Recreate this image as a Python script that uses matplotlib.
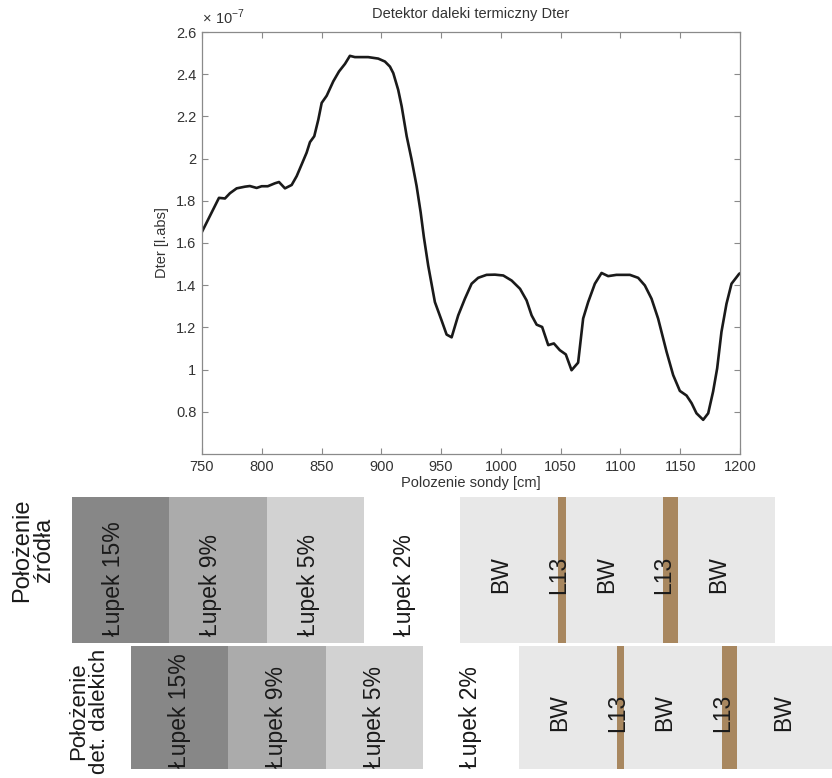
"""
Detektor daleki termiczny Dter — profil sondy z paskiem położenia warstw.
"""

import matplotlib
matplotlib.use("Agg")
import matplotlib.pyplot as plt
import numpy as np

plt.rcParams["font.family"] = ["Liberation Sans", "DejaVu Sans"]
plt.rcParams["mathtext.fontset"] = "custom"
plt.rcParams["mathtext.rm"] = "Liberation Sans"

# probe position [cm] and detector signal [x 1e-7 l.abs]
pos = [750.0, 756.7, 764.2, 769.2, 773.4, 779.0, 786.0, 790.0, 795.7, 799.9,
       805.0, 811.0, 814.4, 819.4, 825.0, 829.2, 833.4, 837.5, 840.3, 843.9,
       847.3, 850.1, 854.3, 859.8, 864.6, 869.6, 873.7, 877.9, 883.5, 889.0,
       897.4, 903.0, 907.2, 910.0, 914.1, 917.0, 921.2, 925.3, 929.5, 932.9,
       935.6, 939.2, 944.8, 950.4, 954.6, 958.8, 964.3, 969.9, 975.5, 981.0,
       988.0, 995.0, 1002.0, 1009.0, 1016.0, 1021.5, 1025.7, 1029.9, 1034.5, 1039.6,
       1044.3, 1049.3, 1054.3, 1059.1, 1064.6, 1068.8, 1073.0, 1078.6, 1084.2, 1089.7,
       1096.7, 1107.9, 1114.8, 1120.4, 1126.0, 1131.5, 1138.6, 1144.1, 1149.7, 1155.3,
       1159.5, 1163.6, 1169.2, 1173.4, 1177.5, 1180.9, 1184.5, 1188.7, 1192.9, 1199.3,
       1200.0]
dter = [1.653, 1.729, 1.814, 1.811, 1.836, 1.859, 1.867, 1.870, 1.861, 1.869,
        1.869, 1.883, 1.889, 1.859, 1.875, 1.917, 1.973, 2.028, 2.078, 2.106,
        2.185, 2.264, 2.298, 2.366, 2.413, 2.449, 2.487, 2.481, 2.481, 2.481,
        2.474, 2.460, 2.436, 2.405, 2.326, 2.248, 2.106, 1.996, 1.870, 1.745,
        1.627, 1.493, 1.320, 1.233, 1.166, 1.153, 1.257, 1.336, 1.407, 1.435,
        1.449, 1.450, 1.446, 1.422, 1.383, 1.328, 1.257, 1.213, 1.202, 1.116,
        1.124, 1.092, 1.072, 0.997, 1.033, 1.242, 1.320, 1.407, 1.458, 1.443,
        1.449, 1.449, 1.435, 1.399, 1.336, 1.242, 1.084, 0.974, 0.899, 0.877,
        0.841, 0.793, 0.762, 0.793, 0.896, 1.006, 1.179, 1.312, 1.407, 1.454,
        1.456]

x_ticks = [750, 800, 850, 900, 950, 1000, 1050, 1100, 1150, 1200]
y_ticks = [0.8, 1.0, 1.2, 1.4, 1.6, 1.8, 2.0, 2.2, 2.4, 2.6]

# layer strips (widths in pixels of the original figure)
layers = ["Łupek 15%", "Łupek 9%", "Łupek 5%", "Łupek 2%", "BW", "L13", "BW", "L13", "BW"]
src_widths = [97, 98, 97, 96, 98, 8, 97, 15, 97]
det_widths = [97, 98, 97, 96, 98, 7, 98, 15, 110]
layer_colors = {"Łupek 15%": "#878787", "Łupek 9%": "#ababab", "Łupek 5%": "#d2d2d2",
                "Łupek 2%": "#ffffff", "BW": "#e8e8e8", "L13": "#a8875f"}
row_titles = ["Położenie\nźródła", "Położenie\ndet. dalekich"]

W, H = 832, 778
fig = plt.figure(figsize=(W / 100, H / 100), dpi=100)

# ---- signal plot
ax = fig.add_axes([202 / W, 1 - 454 / H, 538 / W, 422 / H])
ax.plot(pos, dter, color="#1a1a1a", lw=1.9)
ax.set_xlim(750, 1200)
ax.set_ylim(0.6, 2.6)
ax.set_xticks(x_ticks)
ax.set_yticks(y_ticks)
ax.set_yticklabels([f"{v:g}" for v in y_ticks])
ax.tick_params(direction="in", top=True, right=True, length=4, width=0.8,
               color="#8a8a8a", labelcolor="#333333", labelsize=10.5, pad=4)
for s in ax.spines.values():
    s.set_color("#8a8a8a")
    s.set_linewidth(0.9)
ax.set_title("Detektor daleki termiczny Dter", fontsize=10.5, color="#333333", pad=10)
ax.set_xlabel("Polozenie sondy [cm]", fontsize=10.5, color="#333333", labelpad=2)
ax.set_ylabel("Dter [l.abs]", fontsize=10.5, color="#333333", labelpad=5)
ax.text(0.0, 1.012, r"$\times\ 10^{-7}$", transform=ax.transAxes, fontsize=10.5,
        color="#333333", ha="left", va="bottom")

# ---- layer strips, drawn in figure pixel units
sx = fig.add_axes([0, 0, 1, 1], zorder=-1)
sx.set_xlim(0, W)
sx.set_ylim(H, 0)
sx.axis("off")

rows = [
    # widths, start x, center y, height, Łupek text bottom, text nudge
    (src_widths, 72, 570, 146, 636, -7),
    (det_widths, 131, 707.5, 123, 768, 0),
]
for widths, x0, yc, h, lupek_bottom, nudge in rows:
    lefts = x0 + np.concatenate([[0], np.cumsum(widths)[:-1]])
    sx.barh([yc] * len(widths), widths, left=lefts, height=h,
            color=[layer_colors[m] for m in layers], linewidth=0)
    for name, lf, w in zip(layers, lefts, widths):
        if name.startswith("Łupek"):
            sx.text(lf + w / 2 + nudge, lupek_bottom, name, rotation=90, fontsize=16.5,
                    ha="center", va="bottom", color="#1a1a1a")
        elif name == "L13":
            sx.text(lf + 1, yc + 5, name, rotation=90, fontsize=16.5,
                    ha="center", va="center", color="#1a1a1a")
        else:
            sx.text(lf + w / 2 - 8, yc + 5, name, rotation=90, fontsize=16.5,
                    ha="center", va="center", color="#1a1a1a")

sx.text(33, 550, row_titles[0], rotation=90, fontsize=17, ha="center", va="center",
        multialignment="center", color="#1a1a1a", linespacing=1.0)
sx.text(89, 711, row_titles[1], rotation=90, fontsize=16, ha="center", va="center",
        multialignment="center", color="#1a1a1a", linespacing=1.0)

fig.savefig("out.png", dpi=100)
